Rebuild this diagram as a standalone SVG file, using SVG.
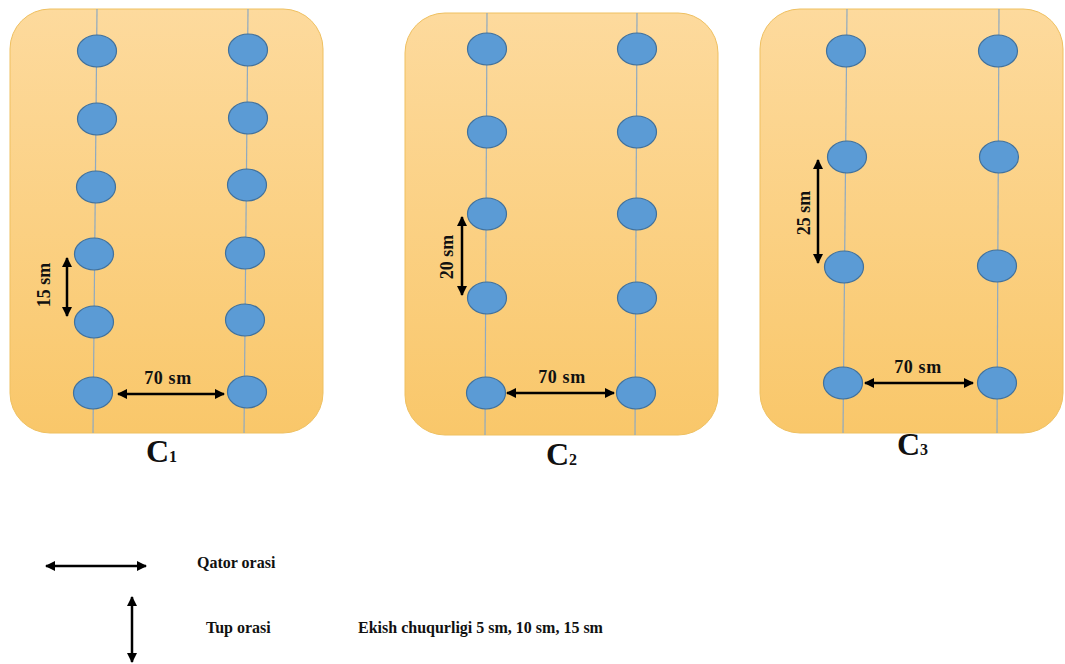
<svg xmlns="http://www.w3.org/2000/svg" width="1065" height="664" viewBox="0 0 1065 664">
<defs>
<linearGradient id="bg" x1="0" y1="0" x2="0" y2="1">
<stop offset="0" stop-color="#FDDA9D"/>
<stop offset="1" stop-color="#F9C76A"/>
</linearGradient>
<marker id="ah" viewBox="0 0 10 10" refX="9" refY="5" markerWidth="4" markerHeight="4" orient="auto-start-reverse" markerUnits="strokeWidth">
<path d="M0,0 L10,5 L0,10 z" fill="#000"/>
</marker>
<style>
.panel{fill:url(#bg);stroke:#EFC060;stroke-width:1}
.row{stroke:#8FA9C0;stroke-width:1.2;fill:none}
.plant{fill:#5B9BD5;stroke:#41719C;stroke-width:1.2}
.arr{stroke:#000;stroke-width:2.5;fill:none;marker-start:url(#ah);marker-end:url(#ah)}
.lbl{font-family:"Liberation Serif","Times New Roman",serif;font-weight:bold;font-size:16px;fill:#111}
.dim{font-family:"Liberation Serif","Times New Roman",serif;font-weight:bold;font-size:18px;fill:#111}
.cap{font-family:"Liberation Serif","Times New Roman",serif;font-weight:bold;font-size:32px;fill:#111}
.sub{font-family:"Liberation Serif","Times New Roman",serif;font-weight:bold;font-size:16px;fill:#111}
</style>
</defs>
<rect width="1065" height="664" fill="#fff"/>

<g id="panel-c1">
<rect class="panel" x="10" y="9" width="313" height="424" rx="40" ry="40"/>
<line class="row" x1="97" y1="9" x2="93" y2="433"/>
<line class="row" x1="248" y1="9" x2="244" y2="433"/>
<ellipse class="plant" cx="97" cy="51" rx="19.5" ry="16"/>
<ellipse class="plant" cx="97" cy="119" rx="19.5" ry="16"/>
<ellipse class="plant" cx="96" cy="187" rx="19.5" ry="16"/>
<ellipse class="plant" cx="94" cy="254" rx="19.5" ry="16"/>
<ellipse class="plant" cx="94" cy="322" rx="19.5" ry="16"/>
<ellipse class="plant" cx="93" cy="393" rx="19.5" ry="16"/>
<ellipse class="plant" cx="248" cy="50" rx="19.5" ry="16"/>
<ellipse class="plant" cx="248" cy="118" rx="19.5" ry="16"/>
<ellipse class="plant" cx="247" cy="185" rx="19.5" ry="16"/>
<ellipse class="plant" cx="245" cy="253" rx="19.5" ry="16"/>
<ellipse class="plant" cx="245" cy="320" rx="19.5" ry="16"/>
<ellipse class="plant" cx="247" cy="392" rx="19.5" ry="16"/>
<text class="dim" x="168" y="384" text-anchor="middle" letter-spacing="0.6">70 sm</text>
<text class="dim" transform="translate(50,285) rotate(-90)" text-anchor="middle">15 sm</text>
<text class="cap" x="146" y="462">C<tspan class="sub">1</tspan></text>
</g>

<g id="panel-c2">
<rect class="panel" x="405" y="13" width="313" height="422" rx="40" ry="40"/>
<line class="row" x1="487" y1="13" x2="485" y2="435"/>
<line class="row" x1="637" y1="13" x2="635" y2="435"/>
<ellipse class="plant" cx="487" cy="49" rx="19.5" ry="16"/>
<ellipse class="plant" cx="487" cy="132" rx="19.5" ry="16"/>
<ellipse class="plant" cx="487" cy="214" rx="19.5" ry="16"/>
<ellipse class="plant" cx="487" cy="298" rx="19.5" ry="16"/>
<ellipse class="plant" cx="486" cy="393" rx="19.5" ry="16"/>
<ellipse class="plant" cx="637" cy="49" rx="19.5" ry="16"/>
<ellipse class="plant" cx="637" cy="132" rx="19.5" ry="16"/>
<ellipse class="plant" cx="637" cy="214" rx="19.5" ry="16"/>
<ellipse class="plant" cx="637" cy="298" rx="19.5" ry="16"/>
<ellipse class="plant" cx="636" cy="393" rx="19.5" ry="16"/>
<text class="dim" x="562" y="383" text-anchor="middle" letter-spacing="0.6">70 sm</text>
<text class="dim" transform="translate(453,257) rotate(-90)" text-anchor="middle">20 sm</text>
<text class="cap" x="546" y="465">C<tspan class="sub">2</tspan></text>
</g>

<g id="panel-c3">
<rect class="panel" x="760" y="9" width="303" height="424" rx="40" ry="40"/>
<line class="row" x1="847" y1="9" x2="843" y2="433"/>
<line class="row" x1="999" y1="9" x2="997" y2="433"/>
<ellipse class="plant" cx="846" cy="51" rx="19.5" ry="16"/>
<ellipse class="plant" cx="847" cy="157" rx="19.5" ry="16"/>
<ellipse class="plant" cx="844" cy="267" rx="19.5" ry="16"/>
<ellipse class="plant" cx="843" cy="383" rx="19.5" ry="16"/>
<ellipse class="plant" cx="998" cy="51" rx="19.5" ry="16"/>
<ellipse class="plant" cx="999" cy="157" rx="19.5" ry="16"/>
<ellipse class="plant" cx="997" cy="266" rx="19.5" ry="16"/>
<ellipse class="plant" cx="997" cy="383" rx="19.5" ry="16"/>
<text class="dim" x="918" y="373" text-anchor="middle" letter-spacing="0.6">70 sm</text>
<text class="dim" transform="translate(810,213) rotate(-90)" text-anchor="middle">25 sm</text>
<text class="cap" x="897" y="455">C<tspan class="sub">3</tspan></text>
</g>

<g id="connectors">
<line class="arr" x1="118" y1="394" x2="224" y2="394"/>
<line class="arr" x1="67" y1="258" x2="67" y2="316"/>
<line class="arr" x1="507" y1="393" x2="614" y2="393"/>
<line class="arr" x1="462" y1="217" x2="462" y2="295"/>
<line class="arr" x1="865" y1="383" x2="973" y2="383"/>
<line class="arr" x1="818" y1="160" x2="818" y2="263"/>
<line class="arr" x1="46" y1="566" x2="146" y2="566"/>
<line class="arr" x1="132" y1="597" x2="132" y2="662"/>
</g>

<g id="legend">
<text class="lbl" x="197" y="568">Qator orasi</text>
<text class="lbl" x="206" y="633">Tup orasi</text>
<text class="lbl" x="358" y="633">Ekish chuqurligi 5 sm, 10 sm, 15 sm</text>
</g>
</svg>
